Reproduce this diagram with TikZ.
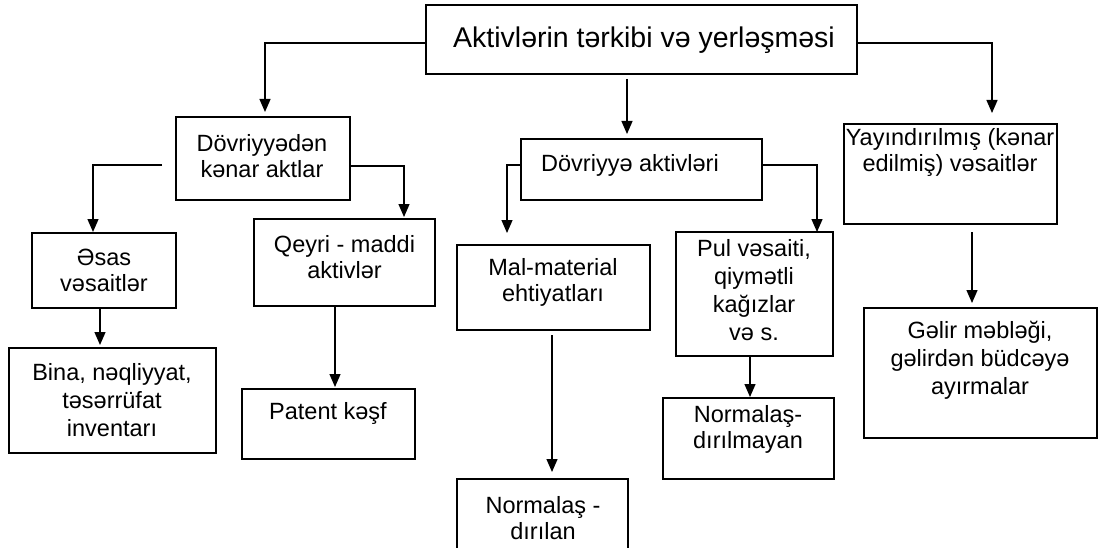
\documentclass[tikz,border=0pt]{standalone}
\usepackage{fontspec}
\setmainfont{Liberation Sans}
\usetikzlibrary{arrows.meta}
\begin{document}
\begin{tikzpicture}[x=1pt,y=-1pt,
  box/.style={draw, line width=1.6pt, inner sep=0pt, outer sep=0pt, anchor=north west},
  txt/.style={align=center, inner sep=0pt, font=\fontsize{23.5}{26}\selectfont},
  wide/.style={font=\fontsize{23.5}{28}\selectfont},
  ttl/.style={inner sep=0pt, font=\fontsize{28.5}{32}\selectfont},
  arr/.style={line width=1.3pt, -{Triangle[length=13pt,width=11pt]}}]
\useasboundingbox (0,0) rectangle (1099,548);
% boxes
\node[box, minimum width=431pt, minimum height=69pt]  (top)  at (426,5) {};
\node[box, minimum width=174pt, minimum height=83pt]  (d1)   at (176,117) {};
\node[box, minimum width=144pt, minimum height=75pt]  (es)   at (32,233) {};
\node[box, minimum width=181pt, minimum height=87pt]  (qm)   at (254,219) {};
\node[box, minimum width=207pt, minimum height=105pt] (bina) at (9,348) {};
\node[box, minimum width=173pt, minimum height=70pt]  (pat)  at (242,389) {};
\node[box, minimum width=241pt, minimum height=61pt]  (dv)   at (521,139) {};
\node[box, minimum width=193pt, minimum height=85pt]  (mal)  at (457,245) {};
\node[box, minimum width=157pt, minimum height=124pt] (pul)  at (676,232) {};
\node[box, minimum width=171pt, minimum height=80pt]  (nd)   at (457,479) {};
\node[box, minimum width=171pt, minimum height=81pt]  (nm)   at (663,398) {};
\node[box, minimum width=213pt, minimum height=100pt] (yay)  at (844,124) {};
\node[box, minimum width=233pt, minimum height=130pt] (gel)  at (864,308) {};
% texts
\node[ttl] (top-t)  at (644,40) {Aktivlərin tərkibi və yerləşməsi};
\node[txt] (d1-t)   at (262,156) {Dövriyyədən\\kənar aktlar};
\node[txt] (es-t)   at (104,270) {Əsas\\vəsaitlər};
\node[txt] (qm-t)   at (344.5,257.5) {Qeyri - maddi\\aktivlər};
\node[txt, wide] (bina-t) at (112,400) {Bina, nəqliyyat,\\təsərrüfat\\inventarı};
\node[txt] (pat-t)  at (328,413) {Patent kəşf};
\node[txt] (dv-t)   at (630,165) {Dövriyyə aktivləri};
\node[txt] (mal-t)  at (553,282) {Mal-material\\ehtiyatları};
\node[txt, wide] (pul-t)  at (754,290) {Pul vəsaiti,\\qiymətli\\kağızlar\\və s.};
\node[txt] (nd-t)   at (543,518) {Normalaş -\\dırılan};
\node[txt] (nm-t)   at (748,429.5) {Normalaş-\\dırılmayan};
\node[txt] (yay-t)  at (950,152.5) {Yayındırılmış (kənar\\edilmiş) vəsaitlər};
\node[txt, wide] (gel-t)  at (980,360) {Gəlir məbləği,\\gəlirdən büdcəyə\\ayırmalar};
% connectors
\draw[arr] ([yshift=-3.5pt]top.west) -| ([xshift=2pt,yshift=5pt]d1.north);
\draw[arr] ([xshift=-14.5pt,yshift=-5pt]top.south) -- ([xshift=-14.5pt,yshift=5pt]top.south |- dv.north);
\draw[arr] ([yshift=-3.5pt]top.east) -| ([xshift=41.5pt,yshift=11pt]yay.north);
\draw[arr] ([xshift=-14pt,yshift=-6.5pt]d1.west) -| ([xshift=-11pt,yshift=1pt]es.north);
\draw[arr] ([yshift=-7.5pt]d1.east) -| ([xshift=59.5pt,yshift=2pt]qm.north);
\draw[arr] ([xshift=-4pt]es.south) -- ([xshift=-4pt,yshift=3pt]es.south |- bina.north);
\draw[arr] ([xshift=-9.5pt]qm.south) -- ([xshift=-9.5pt,yshift=2pt]qm.south |- pat.north);
\draw[arr] ([yshift=4.5pt]dv.west) -| ([xshift=-46.5pt,yshift=12pt]mal.north);
\draw[arr] ([yshift=4.5pt]dv.east) -| ([xshift=62.5pt]pul.north);
\draw[arr] ([xshift=-1.5pt,yshift=-5pt]mal.south) -- ([xshift=-1.5pt,yshift=7pt]mal.south |- nd.north);
\draw[arr] ([xshift=-4.5pt]pul.south) -- ([xshift=-4.5pt,yshift=1pt]pul.south |- nm.north);
\draw[arr] ([xshift=21.5pt,yshift=-8pt]yay.south) -- ([xshift=21.5pt,yshift=5pt]yay.south |- gel.north);
\end{tikzpicture}
\end{document}
